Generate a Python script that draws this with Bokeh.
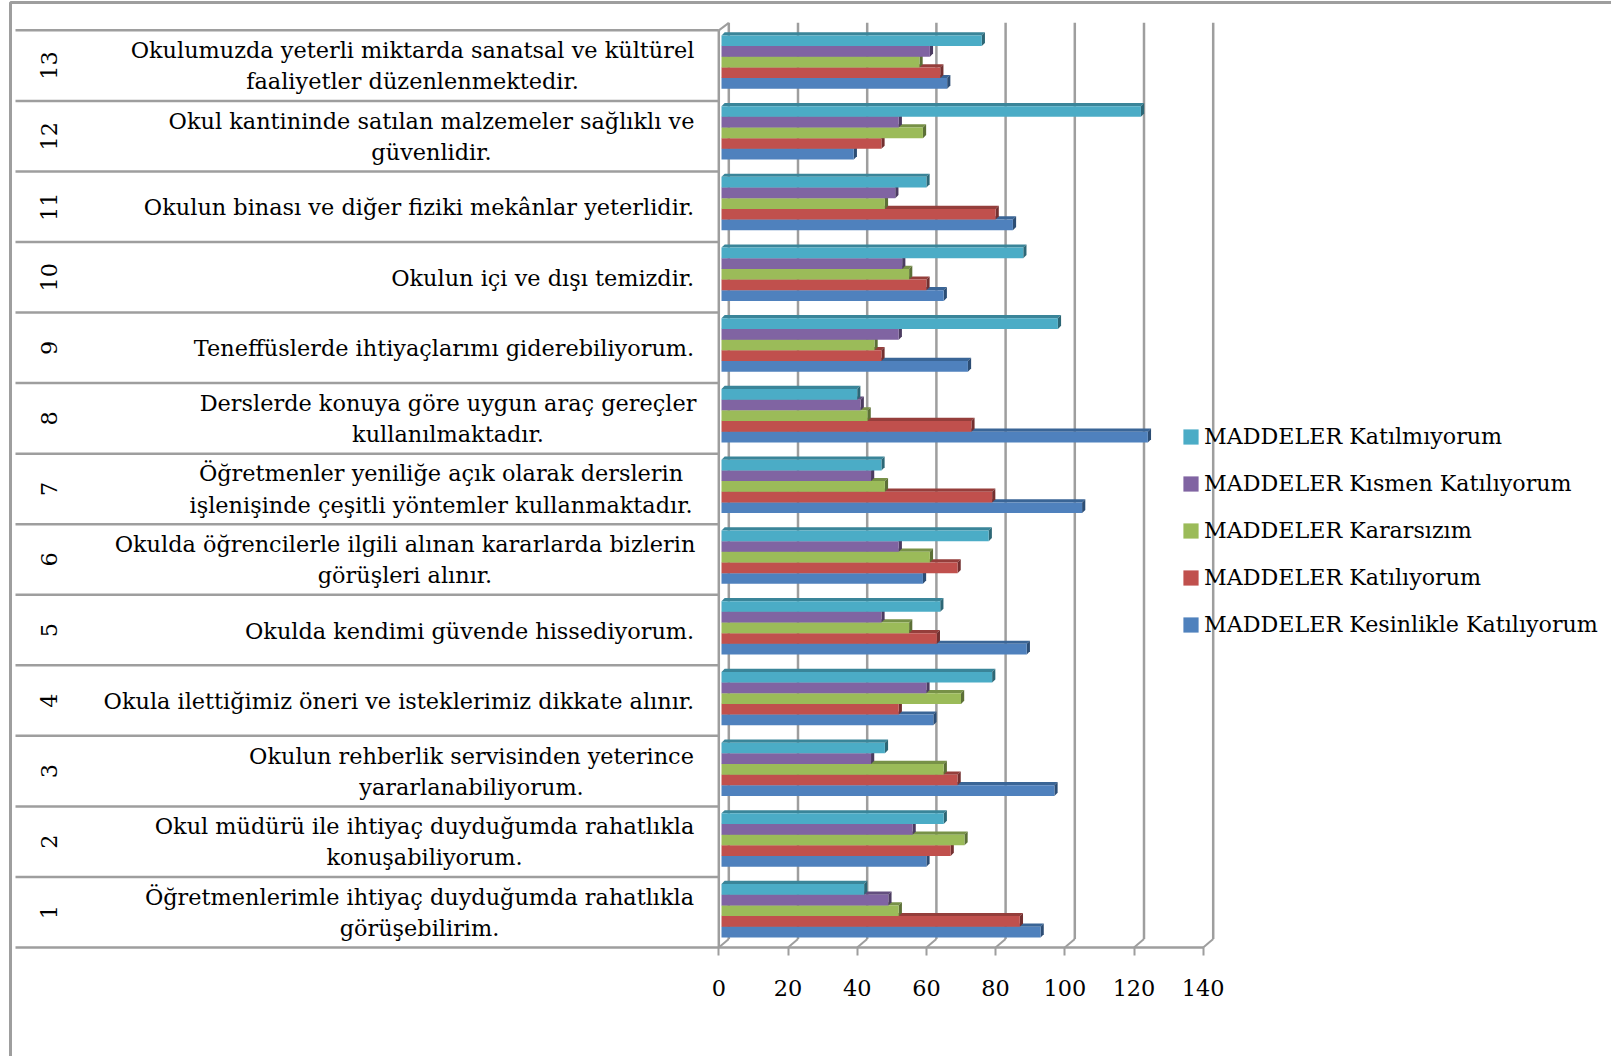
from bokeh.plotting import figure
from bokeh.embed import file_html
from bokeh.resources import INLINE
from bokeh.core.properties import value
from bokeh.models import FixedTicker, Legend, LegendItem, ColumnDataSource

# ---- data (rows 1..13, bottom to top) ----
ROWS = list(range(1, 14))
KESINLIKLE = [93, 60, 97, 62, 89, 59, 105, 124, 72, 65, 85, 39, 66]
KATILIYORUM = [87, 67, 69, 52, 63, 69, 79, 73, 47, 60, 80, 47, 64]
KARARSIZIM = [52, 71, 65, 70, 55, 61, 48, 43, 45, 55, 48, 59, 58]
KISMEN = [49, 56, 44, 60, 47, 52, 44, 41, 52, 53, 51, 52, 61]
KATILMIYORUM = [42, 65, 48, 79, 64, 78, 47, 40, 98, 88, 60, 122, 76]

SERIES_NAMES = ["MADDELER Kesinlikle Katılıyorum", "MADDELER Katılıyorum",
                "MADDELER Kararsızım", "MADDELER Kısmen Katılıyorum",
                "MADDELER Katılmıyorum"]
COLORS = ["#4F81BD", "#C0504D", "#9BBB59", "#8064A2", "#4BACC6"]
TOPS = ["#3A6596", "#953E3B", "#779147", "#634E7E", "#3A8599"]
SIDES = ["#2C4D74", "#733030", "#5C7036", "#4C3C61", "#2D6776"]

ITEMS = [
    ["Öğretmenlerimle ihtiyaç duyduğumda rahatlıkla", "görüşebilirim."],
    ["Okul müdürü ile ihtiyaç duyduğumda rahatlıkla", "konuşabiliyorum."],
    ["Okulun rehberlik servisinden yeterince", "yararlanabiliyorum."],
    ["Okula ilettiğimiz öneri ve isteklerimiz dikkate alınır."],
    ["Okulda kendimi güvende hissediyorum."],
    ["Okulda öğrencilerle ilgili alınan kararlarda bizlerin", "görüşleri alınır."],
    ["Öğretmenler yeniliğe açık olarak derslerin", "işlenişinde çeşitli yöntemler kullanmaktadır."],
    ["Derslerde konuya göre uygun araç gereçler", "kullanılmaktadır."],
    ["Teneffüslerde ihtiyaçlarımı giderebiliyorum."],
    ["Okulun içi ve dışı temizdir."],
    ["Okulun binası ve diğer fiziki mekânlar yeterlidir."],
    ["Okul kantininde satılan malzemeler sağlıklı ve", "güvenlidir."],
    ["Okulumuzda yeterli miktarda sanatsal ve kültürel", "faaliyetler düzenlenmektedir."],
]
TICKS = [0, 20, 40, 60, 80, 100, 120, 140]

# ---- layout ----
W, H = 1611, 1056
X0, UX = 718.3, 3.46      # px of value 0, px per value unit
Y0, UY = 947.0, 70.55     # px of row-1 bottom, px per row
FONT = "DejaVu Serif"
FS = "22.4px"
LEGEND_FS = "22.2px"
GREY = "#9E9E9E"
# horizontal centre (px) of each wrapped label block, by row
BLOCK_CENTERS = {1: 419, 2: 424, 3: 471, 6: 404.5, 7: 440.5, 8: 447.5, 12: 431, 13: 412}


def dx(px):
    return px / UX


def dy(px):
    return px / UY


def vx(px):
    return (px - X0) / UX


def vy(px):
    return 0.5 + (Y0 - px) / UY


p = figure(width=W, height=H, output_backend="svg", toolbar_location=None,
           x_range=(vx(0), vx(W)), y_range=(vy(H), vy(0)),
           min_border=0, y_axis_location=None, margin=(0, 0, 0, 0))
p.grid.visible = False
p.outline_line_color = None

# outer frame
p.line([vx(10), vx(10), vx(W)], [vy(H), vy(2), vy(2)], line_color=GREY, line_width=3)

# table lines
for r in range(14):
    p.segment(vx(15), r + 0.5, 0, r + 0.5, line_color=GREY, line_width=2.5)

# 3-D walls
DEPTH_X, DEPTH_Y = dx(10), dy(8.5)
WALL_TOP = 13.5 + dy(7.5)
for t in TICKS:
    p.segment(t + DEPTH_X, 0.5 + DEPTH_Y, t + DEPTH_X, WALL_TOP, line_color=GREY, line_width=2.5)
    p.segment(t, 0.5, t + DEPTH_X, 0.5 + DEPTH_Y, line_color=GREY, line_width=2)
p.segment(0, 0.5, 0, 13.5, line_color=GREY, line_width=2.5)
p.segment(0, 13.5, DEPTH_X, WALL_TOP, line_color=GREY, line_width=2)

# bars
ALL = [KESINLIKLE, KATILIYORUM, KARARSIZIM, KISMEN, KATILMIYORUM]
BAR_H = dy(10.67)
OFFS = [BAR_H * (i - 2) for i in range(5)]
CENTER = 0.021
DRIFT = dy(0.17)   # the bar groups are spaced slightly wider than the table rows
LEFT = dx(2.7)
D_X, D_Y = dx(3.2), dy(3.2)
renderers = []
for i, vals in enumerate(ALL):
    ys = [r + CENTER + (r - 1) * DRIFT + OFFS[i] for r in ROWS]
    top_xs, top_ys, side_xs, side_ys = [], [], [], []
    for v, y in zip(vals, ys):
        y0, y1 = y - BAR_H / 2, y + BAR_H / 2
        top_xs.append([LEFT, LEFT + D_X, v + D_X, v])
        top_ys.append([y1, y1 + D_Y, y1 + D_Y, y1])
        side_xs.append([v, v + D_X, v + D_X, v])
        side_ys.append([y0, y0 + D_Y, y1 + D_Y, y1])
    p.patches(top_xs, top_ys, fill_color=TOPS[i], line_color=None)
    p.patches(side_xs, side_ys, fill_color=SIDES[i], line_color=None)
    src = ColumnDataSource(dict(y=ys, right=vals, left=[LEFT] * len(vals)))
    r_ = p.hbar(y="y", left="left", right="right", height=BAR_H, source=src,
                fill_color=COLORS[i], line_color=None)
    renderers.append(r_)

# row numbers
p.text([vx(48.5)] * 13, ROWS, text=[str(r) for r in ROWS], angle=1.5708,
       text_align="center", text_baseline="middle", text_color="#000000",
       text_font=value(FONT), text_font_size=FS)

# row labels
RIGHT = vx(693.7)
LINE_SEP = dy(15.6)
for r, lines in zip(ROWS, ITEMS):
    if len(lines) == 1:
        p.text([RIGHT], [r + dy(-0.5)], text=[lines[0]], text_align="right", text_baseline="middle",
               text_color="#000000", text_font=value(FONT), text_font_size=FS)
    else:
        cx = vx(BLOCK_CENTERS[r])
        for j, s in enumerate(lines):
            p.text([cx], [r + LINE_SEP * (1 - 2 * j)], text=[s], text_align="center",
                   text_baseline="middle", text_color="#000000",
                   text_font=value(FONT), text_font_size=FS)

# value axis, on the floor of the table
ax = p.xaxis[0]
ax.fixed_location = 0.5
ax.bounds = (0, 140)
ax.ticker = FixedTicker(ticks=TICKS)
ax.major_tick_in = 0
ax.major_tick_out = 8
ax.minor_tick_line_color = None
ax.axis_line_color = GREY
ax.axis_line_width = 2.5
ax.major_tick_line_color = GREY
ax.major_tick_line_width = 2
ax.major_label_standoff = 24
ax.major_label_text_font = FONT
ax.major_label_text_font_size = FS
ax.major_label_text_color = "#000000"

# legend
legend = Legend(
    items=[LegendItem(label=value(SERIES_NAMES[i]), renderers=[renderers[i]]) for i in range(4, -1, -1)],
    location=(1181, 419), orientation="vertical", glyph_width=19, glyph_height=19,
    label_standoff=4, spacing=21, padding=0, margin=0, border_line_color=None,
    background_fill_alpha=0, label_text_font=FONT, label_text_font_size=LEGEND_FS,
    label_text_color="#000000",
)
p.add_layout(legend, "center")

open("out.html", "w").write(file_html(p, INLINE))
